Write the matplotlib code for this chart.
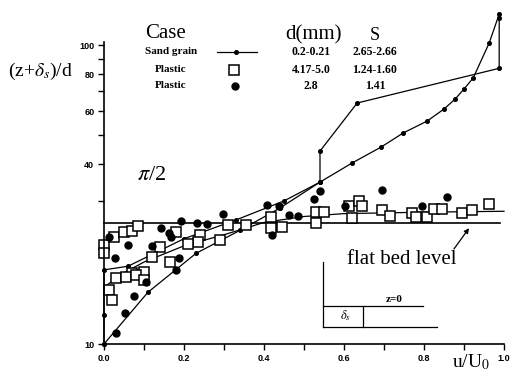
import matplotlib
matplotlib.use("Agg")
import matplotlib.pyplot as plt
from matplotlib.lines import Line2D
from matplotlib.ticker import FixedLocator, NullFormatter, FormatStrFormatter

plt.rcParams["font.family"] = ["Liberation Serif", "DejaVu Serif"]
plt.rcParams["mathtext.fontset"] = "stix"

# sand grain run, smooth profile
sand_x = [0.0, 0.11, 0.23, 0.34, 0.44, 0.54, 0.62, 0.693, 0.748, 0.808,
          0.85, 0.878, 0.90, 0.923, 0.963, 0.988]
sand_y = [10.0, 14.9, 20.1, 24.0, 28.5, 34.8, 40.3, 45.6, 50.8, 55.7,
          61.1, 66.0, 71.3, 77.6, 101.6, 127.0]

# sand grain run, second profile
sand2_x = [0.0, 0.0, 0.0, 0.06, 0.20, 0.33, 0.45, 0.54, 0.54, 0.633, 0.988, 0.988]
sand2_y = [10.0, 12.5, 17.7, 18.2, 22.5, 26.0, 30.1, 34.8, 44.2, 64.0, 83.6, 123.0]

# curve through the plastic data
fit_x = [0.0, 0.05, 0.10, 0.20, 0.30, 0.40, 0.50, 0.60, 0.80, 1.0]
fit_y = [15.5, 17.3, 18.8, 21.3, 23.2, 25.5, 26.7, 27.3, 27.6, 27.8]

# plastic, d = 4.17-5.0 mm (open squares)
sq_x = [0.0, 0.0, 0.025, 0.05, 0.07, 0.085, 0.18, 0.24, 0.235, 0.21, 0.14, 0.12,
        0.10, 0.165, 0.29, 0.31, 0.355, 0.07, 0.012, 0.02, 0.03, 0.055, 0.08,
        0.10, 0.418, 0.418, 0.445, 0.53, 0.55, 0.53, 0.62, 0.612, 0.637, 0.645,
        0.695, 0.715, 0.77, 0.78, 0.808, 0.825, 0.845, 0.895, 0.92, 0.963]
sq_y = [21.4, 20.1, 22.8, 23.7, 23.9, 24.8, 23.7, 23.1, 21.9, 21.6, 21.1, 19.5,
        17.4, 18.8, 22.3, 25.0, 25.0, 17.3, 15.2, 14.0, 16.6, 16.8, 17.0,
        16.4, 26.6, 24.4, 24.6, 27.6, 27.6, 25.4, 26.4, 28.9, 30.0, 28.9,
        28.1, 26.8, 27.4, 26.6, 26.6, 28.3, 28.3, 27.4, 28.1, 29.4]

# plastic, d = 2.8 mm (filled circles)
dot_x = [0.0125, 0.0275, 0.06, 0.1425, 0.1675, 0.1925, 0.2325, 0.2575, 0.2975,
         0.4075, 0.4375, 0.4625, 0.485, 0.525, 0.54, 0.6025, 0.695, 0.795,
         0.8575, 0.42, 0.1875, 0.18, 0.03, 0.0525, 0.075, 0.105, 0.12, 0.1625]
dot_y = [22.8, 19.4, 21.4, 24.4, 22.8, 25.8, 25.4, 25.2, 27.2,
         29.2, 28.9, 27.0, 26.8, 30.5, 32.5, 28.9, 32.7, 28.9,
         31.0, 23.1, 19.4, 17.7, 10.9, 12.7, 14.5, 16.1, 21.3, 23.5]

flat_bed = 25.4

case_rows = ["Sand grain", "Plastic", "Plastic"]
d_mm = ["0.2-0.21", "4.17-5.0", "2.8"]
s_val = ["2.65-2.66", "1.24-1.60", "1.41"]

W, H = 511, 374


def px(x, y):
    return x / W, 1 - y / H


fig = plt.figure(figsize=(W / 100, H / 100), dpi=100)
ax = fig.add_axes([104 / W, 30 / H, 400 / W, 333 / H])
ax.set_yscale("log")
ax.set_xlim(0, 1.0)
ax.set_ylim(10, 130)

kw = dict(color="black", lw=0.9, clip_on=False)
ax.plot(sand_x, sand_y, marker="o", ms=2.6, **kw)
ax.plot(sand2_x, sand2_y, marker="o", ms=2.6, **kw)
ax.plot(fit_x, fit_y, **kw)
ax.plot([0, 0.99], [flat_bed, flat_bed], color="black", lw=1.2, clip_on=False)
ax.plot(sq_x, sq_y, ls="none", marker="s", ms=7, mfc="white", mec="black",
        mew=1.1, clip_on=False)
ax.plot(dot_x, dot_y, ls="none", marker="o", ms=5, color="black", clip_on=False)

for side in ("top", "right"):
    ax.spines[side].set_visible(False)
ax.spines["left"].set_bounds(10, 102)
ax.spines["left"].set_linewidth(1.2)
ax.spines["bottom"].set_linewidth(1.2)

ax.yaxis.set_major_locator(FixedLocator([10, 40, 60, 80, 100]))
ax.yaxis.set_minor_locator(FixedLocator([20, 30, 50, 70, 90]))
ax.yaxis.set_major_formatter(FormatStrFormatter("%d"))
ax.yaxis.set_minor_formatter(NullFormatter())
ax.xaxis.set_major_locator(FixedLocator([0, 0.2, 0.4, 0.6, 0.8, 1.0]))
ax.xaxis.set_minor_locator(FixedLocator([0.1, 0.3, 0.5, 0.7, 0.9]))
ax.xaxis.set_major_formatter(FormatStrFormatter("%.1f"))
ax.tick_params(which="both", direction="out", length=4, width=1, pad=3,
               labelsize=6.5, labelfontfamily="Liberation Sans")
for lbl in ax.get_xticklabels() + ax.get_yticklabels():
    lbl.set_fontweight("bold")

# axis titles
fig.text(*px(40, 71), r"(z+$\delta_s$)/d", fontsize=14, ha="center", va="center")
fig.text(*px(471, 362), r"u/U$_0$", fontsize=14, ha="center", va="center")

# case table
fig.text(*px(165, 34), "Case", fontsize=15, ha="center", va="center")
fig.text(*px(314, 35), "d(mm)", fontsize=15, ha="center", va="center")
fig.text(*px(375, 36), "S", fontsize=13, ha="center", va="center")
row_y = [52, 70, 86]
for name, d, s, yy in zip(case_rows, d_mm, s_val, row_y):
    fig.text(*px(171, yy), name, fontsize=8, fontweight="bold", ha="center", va="center")
    fig.text(*px(311, yy), d, fontsize=8.5, fontweight="bold", ha="center", va="center")
    fig.text(*px(375, yy), s, fontsize=8.5, fontweight="bold", ha="center", va="center")
fig.add_artist(Line2D([217 / W, 257 / W], [1 - 52 / H] * 2, color="black", lw=0.9,
                      marker="o", ms=2.6, markevery=[], transform=fig.transFigure))
fig.add_artist(Line2D([236 / W], [1 - 52 / H], color="black", marker="o", ms=2.6,
                      transform=fig.transFigure))
fig.add_artist(Line2D([234 / W], [1 - 70 / H], ls="none", marker="s", ms=7,
                      mfc="white", mec="black", mew=1.1, transform=fig.transFigure))
fig.add_artist(Line2D([235 / W], [1 - 86 / H], ls="none", marker="o", ms=5,
                      color="black", transform=fig.transFigure))

fig.text(*px(152, 175), r"$\pi$/2", fontsize=16, ha="center", va="center")

# flat bed label and arrow
fig.text(*px(402, 259), "flat bed level", fontsize=15, ha="center", va="center")
ax.annotate("", xy=(0.9125, 24.4), xytext=(0.875, 20.8),
            arrowprops=dict(arrowstyle="-|>", lw=0.9, color="black",
                            mutation_scale=7, shrinkA=0, shrinkB=0))

# sketch of the bed reference level
sketch = [((323, 262), (323, 327)), ((323, 306), (423, 306)),
          ((323, 327), (437, 327)), ((363, 306), (363, 327))]
for (x0, y0), (x1, y1) in sketch:
    fig.add_artist(Line2D([x0 / W, x1 / W], [1 - y0 / H, 1 - y1 / H],
                          color="black", lw=0.9, transform=fig.transFigure))
fig.text(*px(394, 300), "z=0", fontsize=8, fontweight="bold", ha="center", va="center")
fig.text(*px(345, 316), r"$\delta_s$", fontsize=9, ha="center", va="center")

fig.savefig("out.png", dpi=100)
